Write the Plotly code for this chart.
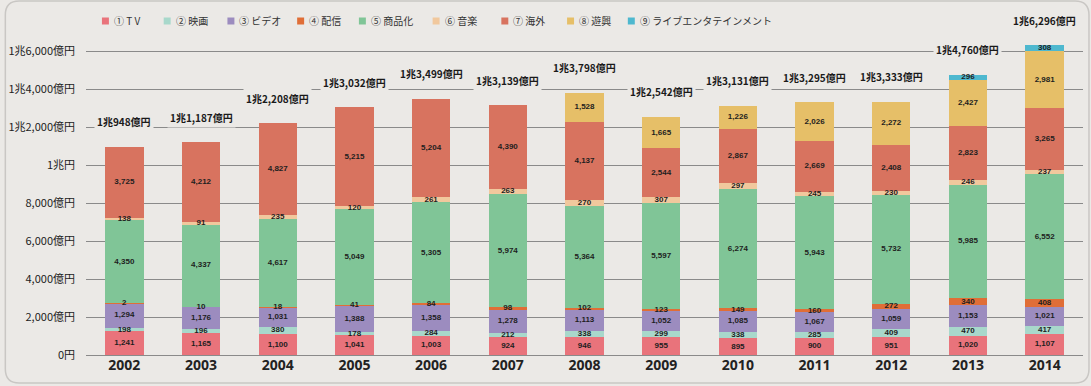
import numpy as np
import plotly.graph_objects as go

years = [2002, 2003, 2004, 2005, 2006, 2007, 2008, 2009, 2010, 2011, 2012, 2013, 2014]

series_names = ["① T V", "② 映画", "③ ビデオ", "④ 配信", "⑤ 商品化", "⑥ 音楽", "⑦ 海外", "⑧ 遊興", "⑨ ライブエンタテインメント"]
series_colors = ["#e9737b", "#a8d8cb", "#9c8cbf", "#e06e37", "#80c597", "#f1c89d", "#d8735f", "#e6bf68", "#4eb8cf"]

tv = [1241, 1165, 1100, 1041, 1003, 924, 946, 955, 895, 900, 951, 1020, 1107]
eiga = [198, 196, 380, 178, 284, 212, 338, 299, 338, 285, 409, 470, 417]
video = [1294, 1176, 1031, 1388, 1358, 1278, 1113, 1052, 1085, 1067, 1059, 1153, 1021]
haishin = [2, 10, 18, 41, 84, 98, 102, 123, 149, 160, 272, 340, 408]
shohinka = [4350, 4337, 4617, 5049, 5305, 5974, 5364, 5597, 6274, 5943, 5732, 5985, 6552]
ongaku = [138, 91, 235, 120, 261, 263, 270, 307, 297, 245, 230, 246, 237]
kaigai = [3725, 4212, 4827, 5215, 5204, 4390, 4137, 2544, 2867, 2669, 2408, 2823, 3265]
yukyo = [0, 0, 0, 0, 0, 0, 1528, 1665, 1226, 2026, 2272, 2427, 2981]
live = [0, 0, 0, 0, 0, 0, 0, 0, 0, 0, 0, 296, 308]

y_tickvals = [0, 2000, 4000, 6000, 8000, 10000, 12000, 14000, 16000]
y_ticktext = ["0円", "2,000億円", "4,000億円", "6,000億円", "8,000億円", "1兆円",
              "1兆2,000億円", "1兆4,000億円", "1兆6,000億円"]

series = [tv, eiga, video, haishin, shohinka, ongaku, kaigai, yukyo, live]

BG = "#ebe9e6"
W, H = 1091, 386
ML, MR, MT, MB = 82, 8, 22, 31
PW, PH = W - ML - MR, H - MT - MB
Y_MAX = PH / 0.019


def px_to_paper_x(px):
    return (px - ML) / PW


def px_to_paper_y(py):
    return (H - MB - py) / PH


fig = go.Figure()

data = np.array(series, dtype=float)
cum = np.cumsum(data, axis=0)
bottoms = cum - data

for i, (name, vals) in enumerate(zip(series_names, series)):
    fig.add_trace(go.Bar(
        x=years, y=vals, name=name, marker=dict(color=series_colors[i], line=dict(width=0)),
        width=0.5, showlegend=False, hoverinfo="x+y+name",
    ))

# segment value labels
lx, ly, lt = [], [], []
for i in range(len(series)):
    for j, yr in enumerate(years):
        v = series[i][j]
        if v <= 0:
            continue
        lx.append(yr)
        ly.append(bottoms[i, j] + v / 2)
        lt.append(f"{v:,}")
fig.add_trace(go.Scatter(
    x=lx, y=ly, text=lt, mode="text", showlegend=False, hoverinfo="skip",
    textfont=dict(family="Liberation Sans", size=8, color="#1e1e1e", weight="bold"),
    cliponaxis=False,
))

# totals
totals = cum[-1]
for yr, t in zip(years, totals):
    t = int(round(t))
    if t >= 10000:
        txt = f"1兆{t - 10000:,}億円"
    else:
        txt = f"{t:,}億円"
    fig.add_annotation(
        x=yr, y=t, text=f"<b>{txt}</b>", showarrow=False, yshift=25,
        font=dict(family="Noto Sans CJK JP", size=10, color="#1a1a1a"),
        bgcolor=BG, borderpad=2, xref="x", yref="y",
    )

# manual legend
legend_x = [98, 160, 224, 294, 356, 430, 499, 565, 626]
legend_y = 21
shapes = []
for i, name in enumerate(series_names):
    x0 = legend_x[i]
    shapes.append(dict(
        type="rect", xref="paper", yref="paper",
        x0=px_to_paper_x(x0), x1=px_to_paper_x(x0 + 7),
        y0=px_to_paper_y(legend_y + 3.5), y1=px_to_paper_y(legend_y - 3.5),
        fillcolor=series_colors[i], line=dict(width=0), layer="above",
    ))
    fig.add_annotation(
        x=px_to_paper_x(x0 + 10), y=px_to_paper_y(legend_y), xref="paper", yref="paper",
        text=name, showarrow=False, xanchor="left", yanchor="middle",
        font=dict(family="Noto Sans CJK JP", size=10, color="#333333"),
    )

# rounded frame
def rr_path(x0, y0, x1, y1, r):
    X = px_to_paper_x
    Y = px_to_paper_y
    return (f"M {X(x0 + r)} {Y(y0)} L {X(x1 - r)} {Y(y0)} "
            f"Q {X(x1)} {Y(y0)} {X(x1)} {Y(y0 + r)} L {X(x1)} {Y(y1 - r)} "
            f"Q {X(x1)} {Y(y1)} {X(x1 - r)} {Y(y1)} L {X(x0 + r)} {Y(y1)} "
            f"Q {X(x0)} {Y(y1)} {X(x0)} {Y(y1 - r)} L {X(x0)} {Y(y0 + r)} "
            f"Q {X(x0)} {Y(y0)} {X(x0 + r)} {Y(y0)} Z")

shapes.append(dict(type="path", xref="paper", yref="paper", path=rr_path(1, 1, 1089, 383, 14),
                   line=dict(color="#c9c7c4", width=1.5), layer="below"))

fig.update_layout(
    width=W, height=H,
    margin=dict(l=ML, r=MR, t=MT, b=MB),
    paper_bgcolor=BG, plot_bgcolor=BG,
    barmode="stack",
    shapes=shapes,
    font=dict(family="Noto Sans CJK JP", color="#333333"),
    xaxis=dict(
        range=[2001.5, 2014.5], tickvals=years, ticktext=[f"<b>{y}</b>" for y in years],
        tickfont=dict(family="Open Sans", size=14, color="#222222"),
        showgrid=False, zeroline=False, showline=False, ticks="",
    ),
    yaxis=dict(
        range=[0, Y_MAX], tickvals=y_tickvals, ticktext=y_ticktext,
        tickfont=dict(family="Noto Sans CJK JP", size=11, color="#222222"),
        showgrid=True, gridcolor="#8a8a8a", gridwidth=1,
        zeroline=True, zerolinecolor="#8a8a8a", zerolinewidth=1,
        showline=False, ticks="", ticklabelstandoff=10,
    ),
)

fig.write_html("out.html", config={"displayModeBar": False},
               post_script="document.body.style.margin='0';document.body.style.background='%s';" % BG)
